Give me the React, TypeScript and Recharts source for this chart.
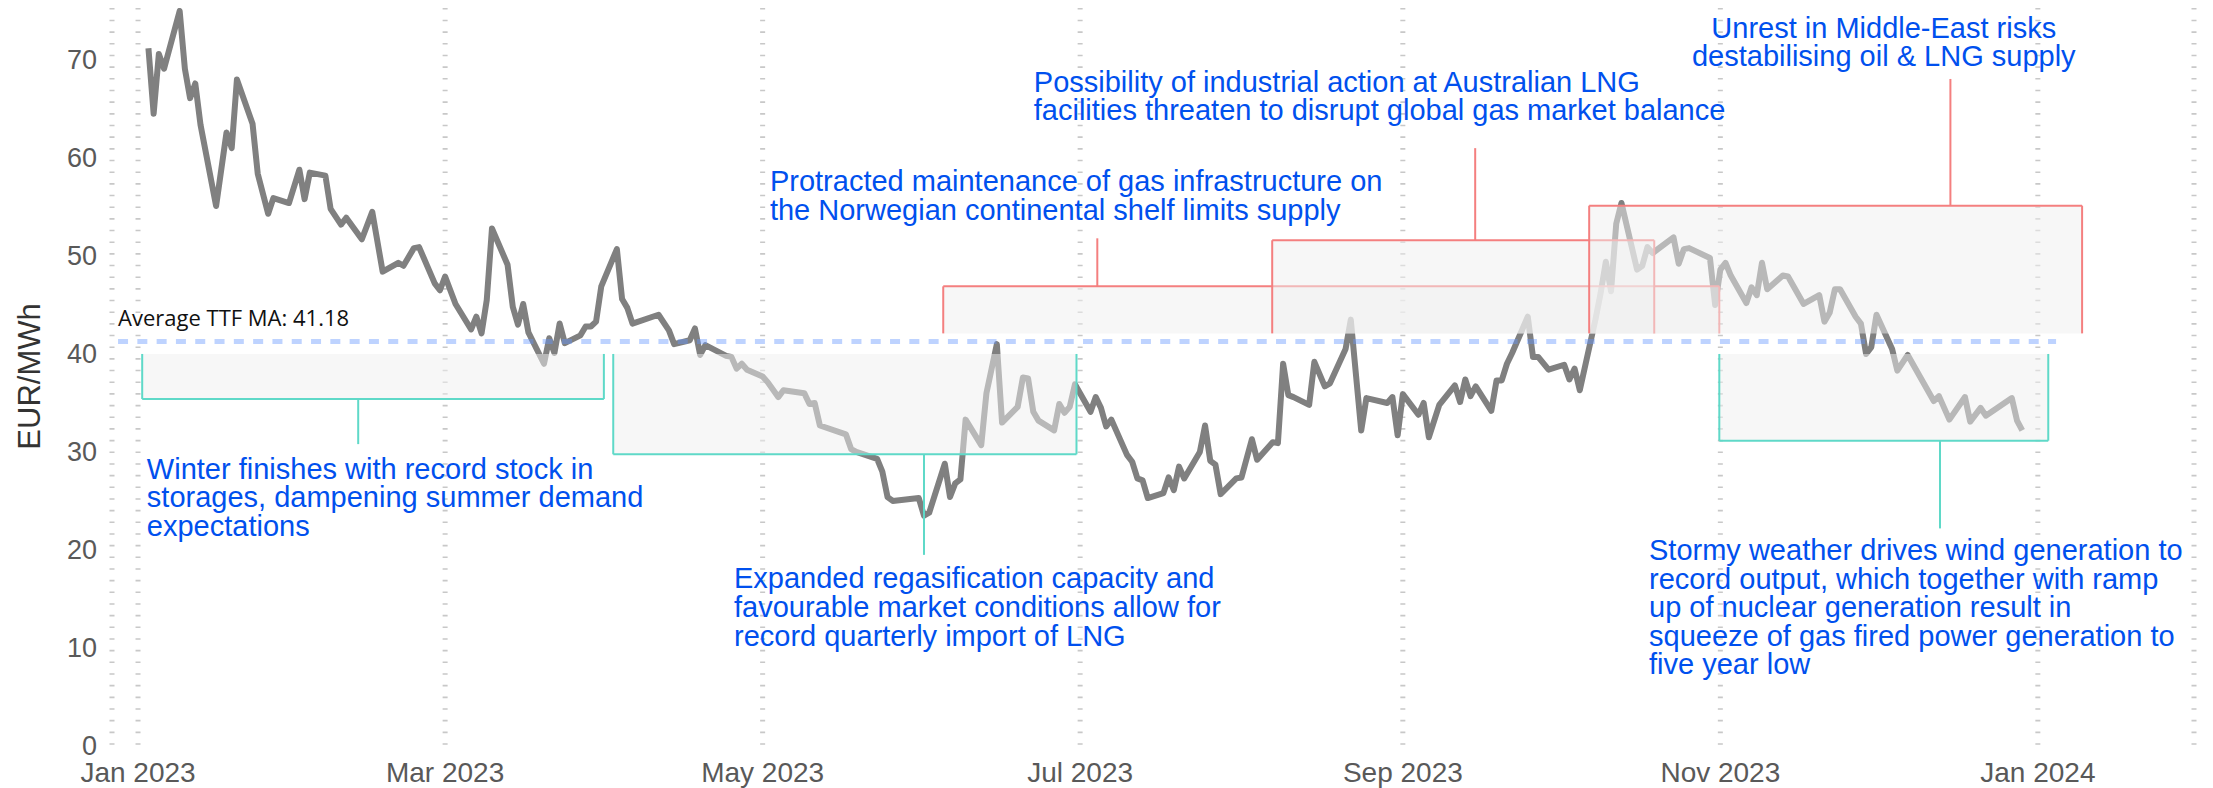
import React from 'react';
import {
  LineChart,
  Line,
  XAxis,
  YAxis,
  CartesianGrid,
  ReferenceArea,
  ReferenceLine,
  ReferenceDot,
} from 'recharts';

// TTF front-month price, EUR/MWh
const dates = [
  '2023-01-03', '2023-01-04', '2023-01-05', '2023-01-06', '2023-01-09', '2023-01-10', '2023-01-11', '2023-01-12',
  '2023-01-13', '2023-01-16', '2023-01-18', '2023-01-19', '2023-01-20', '2023-01-23', '2023-01-24', '2023-01-26',
  '2023-01-27', '2023-01-30', '2023-02-01', '2023-02-02', '2023-02-03', '2023-02-06', '2023-02-07', '2023-02-09',
  '2023-02-10', '2023-02-13', '2023-02-15', '2023-02-17', '2023-02-20', '2023-02-21', '2023-02-23', '2023-02-24',
  '2023-02-27', '2023-02-28', '2023-03-01', '2023-03-03', '2023-03-06', '2023-03-07', '2023-03-08', '2023-03-09',
  '2023-03-10', '2023-03-13', '2023-03-14', '2023-03-15', '2023-03-16', '2023-03-17', '2023-03-20', '2023-03-21',
  '2023-03-22', '2023-03-23', '2023-03-24', '2023-03-27', '2023-03-28', '2023-03-29', '2023-03-30', '2023-03-31',
  '2023-04-03', '2023-04-04', '2023-04-05', '2023-04-06', '2023-04-11', '2023-04-13', '2023-04-14', '2023-04-17',
  '2023-04-18', '2023-04-19', '2023-04-20', '2023-04-24', '2023-04-25', '2023-04-26', '2023-04-27', '2023-04-28',
  '2023-05-01', '2023-05-02', '2023-05-04', '2023-05-05', '2023-05-09', '2023-05-10', '2023-05-11', '2023-05-12',
  '2023-05-17', '2023-05-18', '2023-05-19', '2023-05-23', '2023-05-24', '2023-05-25', '2023-05-26', '2023-05-31',
  '2023-06-01', '2023-06-02', '2023-06-05', '2023-06-06', '2023-06-07', '2023-06-08', '2023-06-09', '2023-06-12',
  '2023-06-13', '2023-06-14', '2023-06-15', '2023-06-16', '2023-06-19', '2023-06-20', '2023-06-21', '2023-06-22',
  '2023-06-23', '2023-06-26', '2023-06-27', '2023-06-28', '2023-06-29', '2023-06-30', '2023-07-03', '2023-07-04',
  '2023-07-05', '2023-07-06', '2023-07-07', '2023-07-10', '2023-07-11', '2023-07-12', '2023-07-13', '2023-07-14',
  '2023-07-17', '2023-07-18', '2023-07-19', '2023-07-20', '2023-07-21', '2023-07-24', '2023-07-25', '2023-07-26',
  '2023-07-27', '2023-07-28', '2023-07-31', '2023-08-01', '2023-08-03', '2023-08-04', '2023-08-07', '2023-08-08',
  '2023-08-09', '2023-08-10', '2023-08-11', '2023-08-14', '2023-08-15', '2023-08-17', '2023-08-18', '2023-08-21',
  '2023-08-22', '2023-08-24', '2023-08-25', '2023-08-29', '2023-08-30', '2023-08-31', '2023-09-01', '2023-09-04',
  '2023-09-05', '2023-09-06', '2023-09-08', '2023-09-11', '2023-09-12', '2023-09-13', '2023-09-14', '2023-09-15',
  '2023-09-18', '2023-09-19', '2023-09-20', '2023-09-21', '2023-09-22', '2023-09-25', '2023-09-26', '2023-09-27',
  '2023-09-29', '2023-10-02', '2023-10-03', '2023-10-04', '2023-10-05', '2023-10-08', '2023-10-09', '2023-10-10',
  '2023-10-11', '2023-10-12', '2023-10-13', '2023-10-16', '2023-10-17', '2023-10-18', '2023-10-19', '2023-10-23',
  '2023-10-24', '2023-10-25', '2023-10-26', '2023-10-30', '2023-10-31', '2023-11-01', '2023-11-02', '2023-11-03',
  '2023-11-06', '2023-11-07', '2023-11-08', '2023-11-09', '2023-11-10', '2023-11-13', '2023-11-14', '2023-11-17',
  '2023-11-20', '2023-11-21', '2023-11-22', '2023-11-23', '2023-11-24', '2023-11-27', '2023-11-28', '2023-11-29',
  '2023-11-30', '2023-12-01', '2023-12-04', '2023-12-05', '2023-12-07', '2023-12-12', '2023-12-13', '2023-12-15',
  '2023-12-18', '2023-12-19', '2023-12-21', '2023-12-22', '2023-12-27', '2023-12-28', '2023-12-29',
];

const prices = [
  71.1, 64.4, 70.5, 69.0, 74.9, 69.0, 66.0, 67.5,
  63.3, 55.0, 62.5, 60.9, 67.9, 63.4, 58.3, 54.2,
  55.8, 55.3, 58.7, 55.7, 58.4, 58.1, 54.7, 53.1,
  53.8, 51.6, 54.4, 48.3, 49.2, 48.9, 50.7, 50.8,
  47.1, 46.4, 47.8, 45.0, 42.4, 43.7, 42.0, 45.4,
  52.7, 49.0, 44.7, 42.9, 45.0, 42.1, 38.9, 41.5,
  40.0, 43.0, 41.0, 41.8, 42.7, 42.7, 43.2, 46.8,
  50.6, 45.5, 44.6, 43.0, 43.9, 42.3, 40.9, 41.3,
  42.5, 39.8, 40.8, 39.7, 39.6, 38.4, 38.9, 38.3,
  37.6, 37.0, 35.5, 36.2, 35.9, 34.8, 34.9, 32.6,
  31.7, 30.2, 29.9, 29.2, 27.9, 25.3, 24.9, 25.2,
  23.4, 23.7, 28.7, 25.3, 26.7, 27.1, 33.2, 30.6,
  35.9, 38.4, 40.9, 32.9, 34.5, 37.5, 37.4, 34.0,
  33.1, 32.1, 34.8, 33.9, 34.5, 36.8, 34.0, 35.5,
  34.4, 32.5, 33.2, 29.6, 28.9, 27.2, 27.0, 25.2,
  25.7, 27.3, 26.0, 28.4, 27.2, 29.9, 32.6, 29.0,
  28.6, 25.6, 27.2, 27.3, 31.2, 29.1, 30.9, 30.8,
  38.9, 35.7, 35.5, 34.7, 39.1, 36.6, 36.9, 40.4,
  43.4, 32.1, 35.4, 34.9, 35.5, 31.6, 35.8, 33.7,
  34.9, 31.4, 34.7, 36.7, 35.0, 37.3, 35.6, 36.6,
  34.1, 37.2, 37.2, 38.9, 40.0, 43.7, 39.6, 39.6,
  38.3, 38.8, 37.3, 38.4, 36.2, 43.4, 46.1, 49.3,
  46.3, 53.2, 55.3, 48.5, 48.9, 50.8, 50.2, 51.8,
  49.1, 50.6, 50.7, 49.7, 44.9, 48.5, 49.2, 47.9,
  45.1, 46.7, 45.9, 49.2, 46.5, 47.9, 47.8, 45.0,
  45.9, 43.2, 44.1, 46.5, 46.5, 43.7, 43.0, 39.9,
  40.6, 43.9, 40.4, 38.2, 39.8, 35.1, 35.6, 33.2,
  35.5, 33.0, 34.4, 33.6, 35.4, 33.1, 32.1,
];

const xTickDates = ['2023-01-01', '2023-03-01', '2023-05-01', '2023-07-01', '2023-09-01', '2023-11-01', '2024-01-01'];
const xTickLabels = ['Jan 2023', 'Mar 2023', 'May 2023', 'Jul 2023', 'Sep 2023', 'Nov 2023', 'Jan 2024'];
const yTicks = [0, 10, 20, 30, 40, 50, 60, 70];

const averageMA = 41.18;
const averageLabel = 'Average TTF MA: 41.18';

// annotation brackets, x in days since 1 Jan 2023, y in EUR/MWh
const lowBoxes = [
  { from: 0.8, to: 89.5, edge: 35.3, stemX: 42.3, stemTo: 30.7 },
  { from: 91.3, to: 180.3, edge: 29.66, stemX: 151.0, stemTo: 19.4 },
  { from: 303.8, to: 367.0, edge: 31.05, stemX: 346.2, stemTo: 22.1 },
];
const highBoxes = [
  { from: 154.7, to: 303.8, edge: 46.8, stemX: 184.3, stemTo: 51.7 },
  { from: 217.9, to: 291.3, edge: 51.5, stemX: 256.9, stemTo: 60.9 },
  { from: 278.8, to: 373.5, edge: 55.03, stemX: 348.2, stemTo: 67.96 },
];
const lowTop = 39.9;
const highBottom = 42.0;

const notes = [
  { x: 1.7, y: 28.2, anchor: 'start', lines: ['Winter finishes with record stock in', 'storages, dampening summer demand', 'expectations'] },
  { x: 114.5, y: 17.0, anchor: 'start', lines: ['Expanded regasification capacity and', 'favourable market conditions allow for', 'record quarterly import of LNG'] },
  {
    x: 290.3, y: 19.9, anchor: 'start',
    lines: ['Stormy weather drives wind generation to', 'record output, which together with ramp', 'up of nuclear generation result in', 'squeeze of gas fired power generation to', 'five year low'],
  },
  { x: 121.4, y: 57.5, anchor: 'start', lines: ['Protracted maintenance of gas infrastructure on', 'the Norwegian continental shelf limits supply'] },
  { x: 172.1, y: 67.7, anchor: 'start', lines: ['Possibility of industrial action at Australian LNG', 'facilities threaten to disrupt global gas market balance'] },
  { x: 335.4, y: 73.2, anchor: 'middle', lines: ['Unrest in Middle-East risks', 'destabilising oil & LNG supply'] },
];

const origin = Date.parse('2023-01-01');
const toDay = (d: string) => (Date.parse(d) - origin) / 86400000;

const rows = dates.map((d, i) => ({ day: toDay(d), price: prices[i] }));
const xTicks = xTickDates.map(toDay);

const TEAL = '#5fd9c8';
const RED = '#f47f7f';
const BOX_FILL = 'rgb(240,240,240)';
const NOTE_BLUE = '#0050ee';
const FONT = '"Liberation Sans", Arial, sans-serif';

const noteShape = (lines: string[], anchor: string) => (p: any) => (
  <text
    x={p.cx}
    y={p.cy}
    textAnchor={anchor}
    dominantBaseline="central"
    fill={NOTE_BLUE}
    fontFamily={FONT}
    fontSize={29}
  >
    {lines.map((l, i) => (
      <tspan key={i} x={p.cx} y={p.cy + i * 28.6}>
        {l}
      </tspan>
    ))}
  </text>
);

const yTitle = (props: any) => {
  const vb = props.viewBox || { x: 0, y: 8, width: 112, height: 737 };
  const cx = 29;
  const cy = vb.y + vb.height / 2;
  return (
    <text
      x={cx}
      y={cy}
      transform={`rotate(-90 ${cx} ${cy})`}
      textAnchor="middle"
      dominantBaseline="central"
      fill="#333"
      fontFamily={FONT}
      fontSize={31}
    >
      EUR/MWh
    </text>
  );
};

export default function App() {
  return (
    <div style={{ position: 'absolute', left: 0, top: 0, width: 2213, height: 788, background: '#fff' }}>
      <LineChart width={2213} height={788} data={rows} margin={{ top: 8, right: 19, bottom: 0, left: 0 }}>
        <CartesianGrid horizontal={false} stroke="#c8c8c8" strokeWidth={5} strokeDasharray="1.6 10.07" />
        <XAxis
          dataKey="day"
          type="number"
          domain={[-5, 395]}
          ticks={xTicks}
          interval={0}
          allowDataOverflow
          axisLine={false}
          tickLine={false}
          tickSize={0}
          tickMargin={17}
          height={43}
          tick={{ fontSize: 28, fill: '#595959', fontFamily: FONT }}
          tickFormatter={(v: number) => xTickLabels[xTicks.indexOf(v)] ?? ''}
        />
        <YAxis
          type="number"
          domain={[0, 75.2]}
          ticks={yTicks}
          interval={0}
          allowDataOverflow
          axisLine={false}
          tickLine={false}
          tickSize={0}
          tickMargin={15}
          width={112}
          tick={{ fontSize: 27, fill: '#595959', fontFamily: FONT }}
          label={{ position: 'insideLeft', content: yTitle }}
        />
        <Line
          dataKey="price"
          type="linear"
          stroke="#808080"
          strokeWidth={6}
          strokeLinejoin="round"
          dot={false}
          activeDot={false}
          isAnimationActive={false}
          zIndex={400}
        />

        {lowBoxes.map((b, i) => [
          <ReferenceArea key={`la${i}`} x1={b.from} x2={b.to} y1={b.edge} y2={lowTop} fill={BOX_FILL} fillOpacity={0.5} stroke="none" zIndex={500} />,
          <ReferenceLine key={`ll${i}`} segment={[{ x: b.from, y: lowTop }, { x: b.from, y: b.edge }]} stroke={TEAL} strokeWidth={2} zIndex={500} />,
          <ReferenceLine key={`lb${i}`} segment={[{ x: b.from, y: b.edge }, { x: b.to, y: b.edge }]} stroke={TEAL} strokeWidth={2} zIndex={500} />,
          <ReferenceLine key={`lr${i}`} segment={[{ x: b.to, y: b.edge }, { x: b.to, y: lowTop }]} stroke={TEAL} strokeWidth={2} zIndex={500} />,
          <ReferenceLine key={`ls${i}`} segment={[{ x: b.stemX, y: b.edge }, { x: b.stemX, y: b.stemTo }]} stroke={TEAL} strokeWidth={2} zIndex={500} />,
        ])}

        {highBoxes.map((b, i) => [
          <ReferenceArea key={`ha${i}`} x1={b.from} x2={b.to} y1={highBottom} y2={b.edge} fill={BOX_FILL} fillOpacity={0.5} stroke="none" zIndex={500} />,
          <ReferenceLine key={`hl${i}`} segment={[{ x: b.from, y: highBottom }, { x: b.from, y: b.edge }]} stroke={RED} strokeWidth={2} zIndex={500} />,
          <ReferenceLine key={`ht${i}`} segment={[{ x: b.from, y: b.edge }, { x: b.to, y: b.edge }]} stroke={RED} strokeWidth={2} zIndex={500} />,
          <ReferenceLine key={`hr${i}`} segment={[{ x: b.to, y: b.edge }, { x: b.to, y: highBottom }]} stroke={RED} strokeWidth={2} zIndex={500} />,
          <ReferenceLine key={`hs${i}`} segment={[{ x: b.stemX, y: b.edge }, { x: b.stemX, y: b.stemTo }]} stroke={RED} strokeWidth={2} zIndex={500} />,
        ])}

        <ReferenceLine
          segment={[{ x: -3.84, y: averageMA }, { x: 368.5, y: averageMA }]}
          stroke="rgb(100,150,255)"
          strokeOpacity={0.42}
          strokeWidth={5}
          strokeDasharray="10 9.3"
          zIndex={600}
        />
        <ReferenceDot
          x={-3.84}
          y={averageMA}
          r={0}
          zIndex={700}
          shape={(p: any) => (
            <text x={p.cx} y={p.cy - 24} dominantBaseline="central" fill="#111" fontFamily='"Open Sans", sans-serif' fontSize={22}>
              {averageLabel}
            </text>
          )}
        />

        {notes.map((n, i) => (
          <ReferenceDot key={`n${i}`} x={n.x} y={n.y} r={0} zIndex={700} shape={noteShape(n.lines, n.anchor)} />
        ))}
      </LineChart>
    </div>
  );
}
